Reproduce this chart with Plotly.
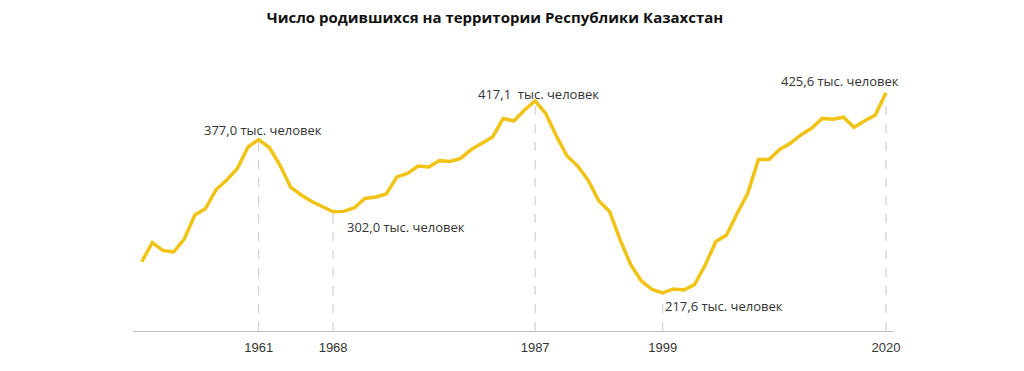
import plotly.graph_objects as go

years = list(range(1950, 2021))
births = [250.1, 269.9, 261.7, 260.2, 273.7, 298.7, 305.4, 325.1, 335.0, 347.0,
          369.3, 377.0, 368.8, 350.6, 327.7, 319.4, 312.7, 307.0, 302.0, 302.4,
          306.2, 315.8, 317.4, 320.5, 338.2, 341.8, 349.6, 348.5, 355.1, 354.2,
          357.4, 366.7, 373.0, 379.7, 398.9, 396.3, 407.7, 417.1, 404.2, 380.8,
          359.9, 349.6, 334.5, 313.2, 302.3, 272.7, 246.7, 230.1, 221.2, 217.6,
          221.8, 220.7, 226.4, 246.7, 271.1, 277.9, 300.2, 321.2, 356.3, 356.3,
          366.7, 373.1, 381.8, 388.7, 399.0, 398.1, 400.2, 389.8, 396.6, 402.6,
          425.6]

mark_years = [1961, 1968, 1987, 1999, 2020]
mark_values = [377.0, 302.0, 417.1, 217.6, 425.6]
mark_labels = ["377,0 тыс. человек", "302,0 тыс. человек", "417,1  тыс. человек",
               "217,6 тыс. человек", "425,6 тыс. человек"]
tick_labels = ["1961", "1968", "1987", "1999", "2020"]

Y_MIN, Y_MAX = 178.1, 459.7

fig = go.Figure()
fig.add_trace(go.Scatter(x=years, y=births, mode="lines",
                         line=dict(color="#F0C316", width=3.5),
                         hoverinfo="skip", showlegend=False))

for yr, val in zip(mark_years, mark_values):
    fig.add_shape(type="line", xref="x", yref="y", x0=yr, x1=yr, y0=Y_MIN, y1=val,
                  line=dict(color="#C8C8C8", width=1, dash="dash"), layer="below")

# label placement: (xshift px, yshift px up, xanchor)
placement = [(4, 10, "center"), (12, -15, "left"), (3, 7, "center"),
             (0, -13, "left"), (-46, 12, "center")]
for yr, val, lab, (dx, dy, anc) in zip(mark_years, mark_values, mark_labels, placement):
    fig.add_annotation(x=yr, y=val, xref="x", yref="y", text=lab, showarrow=False,
                       xanchor=anc, yanchor="middle", xshift=dx, yshift=dy,
                       font=dict(family="Open Sans, Arial, sans-serif", size=13, color="#333333"))

fig.update_layout(
    width=1024, height=371,
    margin=dict(l=125, r=139, t=52, b=48),
    paper_bgcolor="white", plot_bgcolor="white",
    title=dict(text="<b>Число родившихся на территории Республики Казахстан</b>",
               x=0.4756, xanchor="center", y=0.975, yanchor="middle",
               font=dict(family="Open Sans, Arial, sans-serif", size=15, color="#111111")),
    xaxis=dict(range=[1949.18, 2020.66], tickmode="array", tickvals=mark_years,
               ticktext=tick_labels, showgrid=False, zeroline=False,
               showline=True, linecolor="#BFBFBF", linewidth=1, ticks="",
               ticklabelstandoff=4,
               tickfont=dict(family="Liberation Sans Narrow, Arial Narrow, sans-serif", size=13, color="#333333")),
    yaxis=dict(range=[Y_MIN, Y_MAX], visible=False, showgrid=False, zeroline=False),
)

fig.write_html("out.html")
